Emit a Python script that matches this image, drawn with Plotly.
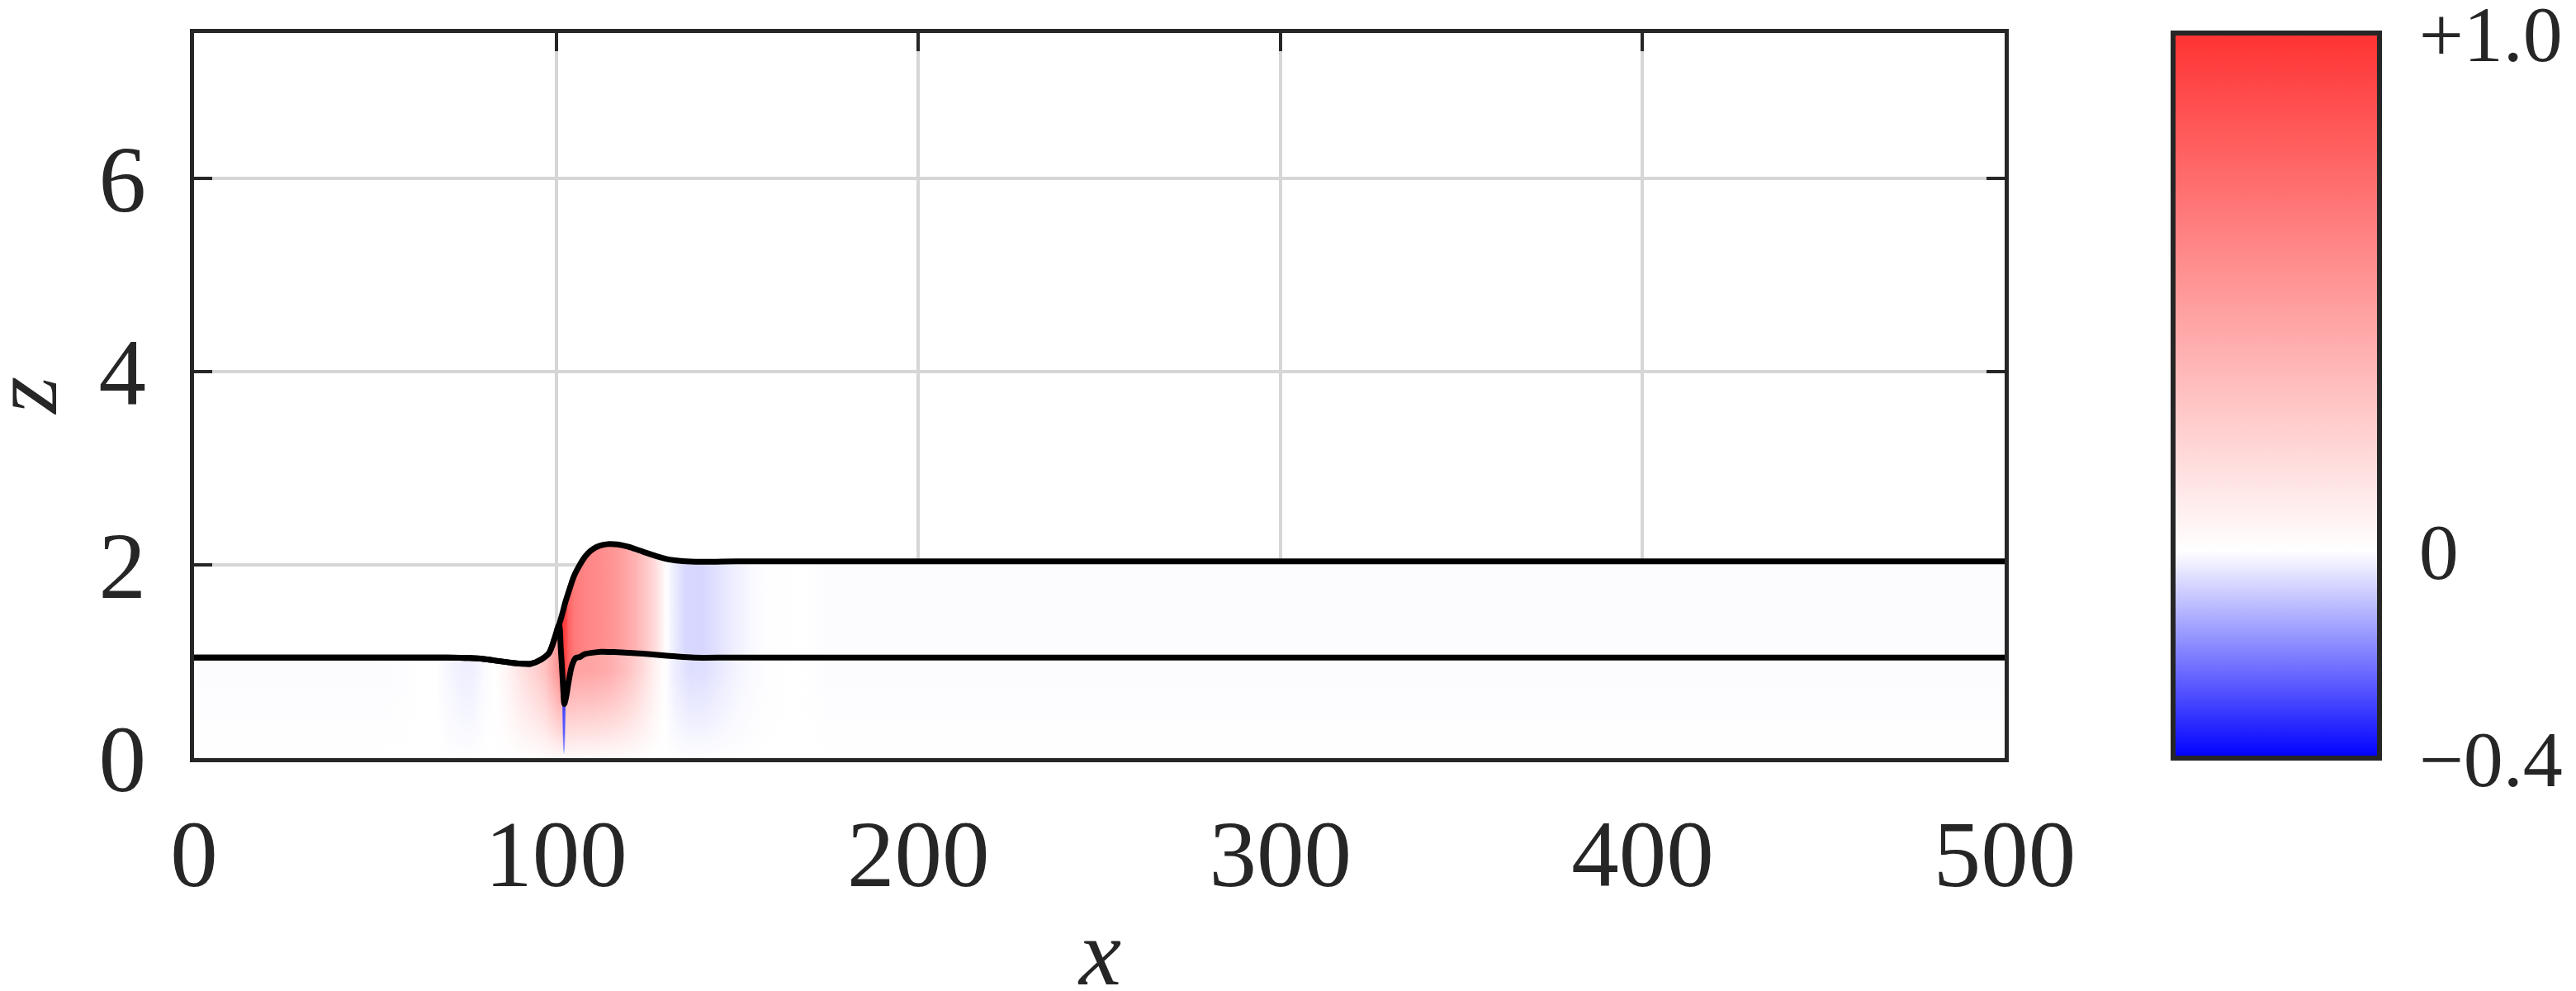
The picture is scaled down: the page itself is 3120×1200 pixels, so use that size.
import plotly.graph_objects as go
from plotly.colors import sample_colorscale

# ---------------- data ----------------
# interface that is shared by both lines (upper layer has zero thickness here)
x_shared = [0, 40, 60, 70, 76, 80, 84, 88, 91, 93, 95.7, 98, 99.5, 100.8]
z_shared = [1.04, 1.04, 1.04, 1.04, 1.035, 1.025, 1.005, 0.985, 0.976, 0.976, 1.017, 1.085, 1.23, 1.38]

# lower interface after the front (with the narrow spike)
x_lower_branch = [101.3, 101.7, 102.0, 102.25, 102.8, 103.4, 104.3, 105.4, 106.5, 107.8, 110, 112.4, 116, 120, 124, 128, 133, 138, 150, 500]
z_lower_branch = [1.12, 0.88, 0.68, 0.56, 0.64, 0.78, 0.95, 1.035, 1.045, 1.075, 1.09, 1.10, 1.097, 1.09, 1.08, 1.068, 1.052, 1.04, 1.04, 1.04]

# upper free surface after the front
x_upper_branch = [101.6, 102.6, 103.8, 104.9, 106.4, 107.9, 109.4, 110.9, 112.8, 114.7, 117, 120, 124, 128, 131, 135, 140, 150, 500]
z_upper_branch = [1.48, 1.62, 1.76, 1.88, 1.99, 2.08, 2.14, 2.18, 2.205, 2.215, 2.21, 2.185, 2.135, 2.085, 2.055, 2.037, 2.03, 2.035, 2.035]

# field value near the top of the lower layer, by x
x_lower_field = [0, 50, 58, 62, 67, 70, 74, 77, 80, 83, 86, 90, 94, 97, 99.5, 101, 103, 106, 110, 115, 120, 124, 127, 130, 133, 137, 141, 145, 150, 155, 160, 167, 175, 500]
v_lower_field = [-0.005, -0.005, -0.003, 0.0, 0.0, -0.012, -0.025, -0.025, -0.008, 0.0, 0.04, 0.13, 0.22, 0.3, 0.45, 0.55, 0.47, 0.45, 0.44, 0.4, 0.3, 0.18, 0.08, 0.0, -0.03, -0.052, -0.05, -0.035, -0.018, -0.006, 0.003, 0.0, -0.005, -0.005]

# field value in the upper layer, by x
x_upper_field = [95, 99, 100.5, 101.5, 102.5, 103.5, 105, 108, 112, 116, 119, 122, 125, 128, 130.5, 133, 136, 140, 144, 148, 153, 157, 162, 168, 175, 500]
v_upper_field = [0.45, 0.7, 0.95, 1.0, 0.92, 0.76, 0.65, 0.6, 0.56, 0.51, 0.45, 0.37, 0.27, 0.14, 0.0, -0.035, -0.062, -0.065, -0.048, -0.03, -0.013, -0.003, 0.004, 0.0, -0.005, -0.005]

# fading of the lower-layer field toward the bottom (opacity of white wash)
fade_z = [0.0, 0.1, 0.3, 0.6, 0.9]
fade_alpha = [0.95, 0.85, 0.62, 0.3, 0.0]

# narrow streak below the spike tip
streak_x = [101.7, 102.6, 102.35, 101.95, 101.7]
streak_z = [0.57, 0.57, 0.03, 0.03, 0.57]
streak_prof_z = [0.03, 0.1, 0.25, 0.57]
streak_prof_v = [0.0, -0.15, -0.25, -0.3]

x_ticks = [0, 100, 200, 300, 400, 500]
z_ticks = [0, 2, 4, 6]
cbar_vals = [-0.4, 0.0, 1.0]
cbar_text = ["\u22120.4", "0", "+1.0"]
x_title = "<i>x</i>"
z_title = "<i>z</i>"

VMIN, VMAX = -0.4, 1.0
X_RANGE = [0, 500]
Z_RANGE = [0, 7.5]

# ---------------- styling ----------------
CS = [[0.0, "rgb(0,0,255)"], [(0 - VMIN) / (VMAX - VMIN), "rgb(255,255,255)"], [1.0, "rgb(255,50,50)"]]
INK = "#262626"
FONT = "Liberation Serif"


def colors_for(vals):
    return sample_colorscale(CS, [(v - VMIN) / (VMAX - VMIN) for v in vals])


def gradient(pos, cols, orientation):
    a, b = pos[0], pos[-1]
    stops = [[(p - a) / (b - a), c] for p, c in zip(pos, cols)]
    stops[0][0], stops[-1][0] = 0.0, 1.0
    return dict(type=orientation, colorscale=stops, start=a, stop=b)


x_lower = x_shared + x_lower_branch
z_lower = z_shared + z_lower_branch
x_upper = x_shared + x_upper_branch
z_upper = z_shared + z_upper_branch

LINE_SHAPE = dict(shape="spline", smoothing=0.8)

fig = go.Figure()

# lower layer field
fig.add_trace(go.Scatter(
    x=x_lower, y=z_lower, mode="lines", line=dict(width=0, **LINE_SHAPE),
    fill="tozeroy", fillgradient=gradient(x_lower_field, colors_for(v_lower_field), "horizontal"),
    hoverinfo="skip"))

# fading toward the bottom
fig.add_trace(go.Scatter(
    x=X_RANGE, y=[fade_z[-1], fade_z[-1]], mode="lines", line=dict(width=0),
    fill="tozeroy",
    fillgradient=gradient(fade_z, [f"rgba(255,255,255,{a})" for a in fade_alpha], "vertical"),
    hoverinfo="skip"))

# streak below the spike
fig.add_trace(go.Scatter(
    x=streak_x, y=streak_z, mode="lines", line=dict(width=0), fill="toself",
    fillgradient=gradient(streak_prof_z, colors_for(streak_prof_v), "vertical"),
    hoverinfo="skip"))

# upper layer field (between interface and free surface)
fig.add_trace(go.Scatter(
    x=x_lower, y=z_lower, mode="lines", line=dict(width=0, **LINE_SHAPE),
    hoverinfo="skip"))
fig.add_trace(go.Scatter(
    x=x_upper, y=z_upper, mode="lines", line=dict(width=0, **LINE_SHAPE),
    fill="tonexty", fillgradient=gradient(x_upper_field, colors_for(v_upper_field), "horizontal"),
    hoverinfo="skip"))

# interface lines
fig.add_trace(go.Scatter(
    x=x_lower, y=z_lower, mode="lines",
    line=dict(color="black", width=7, **LINE_SHAPE), hoverinfo="skip"))
fig.add_trace(go.Scatter(
    x=x_upper, y=z_upper, mode="lines",
    line=dict(color="black", width=7, **LINE_SHAPE), hoverinfo="skip"))

# colour bar
fig.add_trace(go.Scatter(
    x=[None], y=[None], mode="markers",
    marker=dict(color=[0], colorscale=CS, cmin=VMIN, cmax=VMAX, showscale=True,
                colorbar=dict(
                    x=1.093, xanchor="left", y=0.5, yanchor="middle",
                    len=1, lenmode="fraction", thickness=250, thicknessmode="pixels",
                    xpad=0, ypad=0, outlinewidth=6, outlinecolor=INK,
                    tickvals=cbar_vals, ticktext=cbar_text,
                    ticks="outside", ticklen=26, tickcolor="rgba(0,0,0,0)",
                    ticklabeloverflow="allow",
                    tickfont=dict(family=FONT, size=96, color=INK))),
    hoverinfo="skip"))

axis_common = dict(
    ticks="inside", ticklen=22, tickwidth=4, tickcolor=INK,
    showline=True, linewidth=5, linecolor=INK, mirror="allticks",
    showgrid=True, gridcolor="#d6d6d6", gridwidth=4, zeroline=False,
    layer="below traces", automargin=False,
    tickfont=dict(family=FONT, size=115, color=INK),
)

fig.update_xaxes(range=X_RANGE, tickvals=x_ticks, ticklabelstandoff=12, **axis_common)
fig.update_yaxes(range=Z_RANGE, tickvals=z_ticks, ticklabelstandoff=30, **axis_common)

# axis titles
fig.add_annotation(text=x_title, xref="paper", yref="paper", x=0.5, y=-0.268,
                   xanchor="center", yanchor="middle", showarrow=False,
                   font=dict(family=FONT, size=115, color=INK))
fig.add_annotation(text=z_title, xref="paper", yref="paper", x=-0.094, y=0.5,
                   xanchor="center", yanchor="middle", showarrow=False, textangle=-90,
                   font=dict(family=FONT, size=115, color=INK))

fig.update_layout(
    width=3120, height=1200,
    margin=dict(l=227, r=700, t=32, b=290, autoexpand=False),
    paper_bgcolor="white", plot_bgcolor="white",
    showlegend=False,
    font=dict(family=FONT, size=115, color=INK),
)

fig.write_html("out.html")
